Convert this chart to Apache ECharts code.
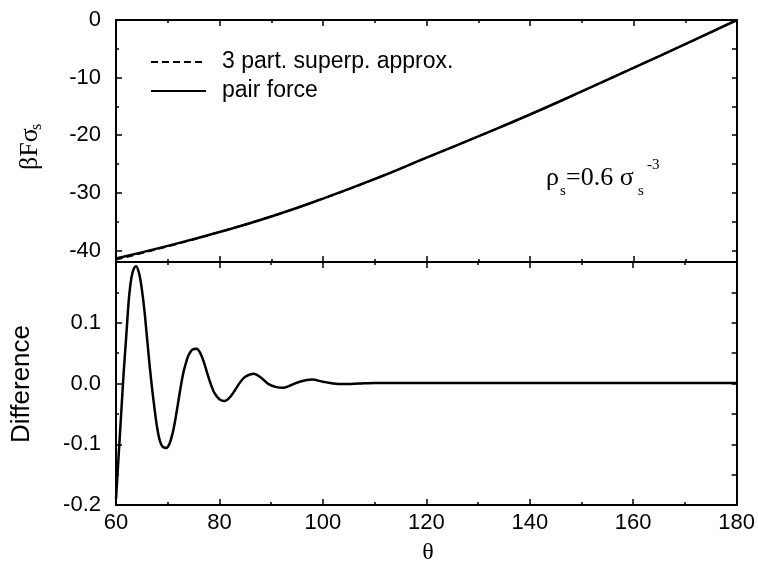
<!DOCTYPE html>
<html><head><meta charset="utf-8">
<script src="https://cdn.jsdelivr.net/npm/echarts@6/dist/echarts.min.js"></script>
<style>html,body{margin:0;padding:0;background:#fff}#c{width:758px;height:562px}</style>
</head><body><div id="c"></div>
<script>
// ---- data ----
const thetaTop = [60,70,80,90,100,110,120,130,140,150,160,170,180];
const pairForce = [-41.4,-39.2,-36.8,-34.1,-31.0,-27.6,-23.9,-20.2,-16.4,-12.4,-8.3,-4.2,0];
const threePart = [-41.59,-39.3,-36.8,-34.1,-31.0,-27.6,-23.9,-20.2,-16.4,-12.4,-8.3,-4.2,0];
const thetaDiff = [60,60.5,61,61.5,62,62.5,63,63.5,63.9,64.5,65,65.5,66,66.5,67,67.5,68,68.5,69,69.7,70.3,71,71.5,72,72.5,73,73.5,74,74.8,75.6,76.3,77,77.6,78.2,79,80,81,82,83,84,85,86.6,88,89.5,91,92.4,94,95.5,97.9,100,102,104,107,110,115,120,130,140,150,160,170,180];
const difference = [-0.19,-0.12,-0.05,0.02,0.08,0.14,0.175,0.19,0.193,0.18,0.155,0.12,0.075,0.03,-0.01,-0.045,-0.075,-0.095,-0.104,-0.106,-0.1,-0.08,-0.058,-0.032,-0.006,0.017,0.033,0.046,0.056,0.057,0.05,0.035,0.018,0.002,-0.015,-0.026,-0.029,-0.023,-0.011,0.002,0.011,0.016,0.01,-0.001,-0.006,-0.007,-0.002,0.003,0.0065,0.003,0.0,-0.001,0.0,0.001,0.001,0.001,0.001,0.001,0.001,0.001,0.001,0.001];
const topYLabels = [-40,-30,-20,-10,0];
const topYMinor = [-35,-25,-15,-5];
const topYRight = [-40,-35,-30,-25,-20,-15,-10,-5];
const bottomYLabels = [-0.2,-0.1,0.0,0.1];
const bottomYRight = [-0.15,-0.1,-0.05,0,0.05,0.1,0.15];
const seriesNames = ['3 part. superp. approx.','pair force'];

// ---- chart ----
const SANS = 'Liberation Sans, Arial, sans-serif';
const SERIF = 'Liberation Serif, Times New Roman, serif';
const black = '#000';
const line = {show:true, onZero:false, lineStyle:{color:black, width:2}};

function xAx(grid, pos, labels){
  return {type:'value', gridIndex:grid, position:pos, min:60, max:180, interval:20,
    axisLine:line, splitLine:{show:false},
    axisTick:{show:true, inside:true, length:6, lineStyle:{color:black, width:1.5}},
    minorTick:{show:true, splitNumber:2, length:3, lineStyle:{color:black, width:1.5}},
    axisLabel:{show:labels, color:black, fontFamily:SANS, fontSize:22, margin:7}};
}
const chart = echarts.init(document.getElementById('c'), null, {renderer:'canvas'});
chart.setOption({
  animation:false,
  backgroundColor:'#fff',
  grid:[{left:116, top:20, width:621, height:242},{left:116, top:262, width:621, height:243}],
  xAxis:[xAx(0,'bottom',false), xAx(0,'top',false), xAx(1,'bottom',true), xAx(1,'top',false)],
  yAxis:[
    {type:'value', gridIndex:0, position:'left', min:-42, max:0,
      axisLine:line, splitLine:{show:false},
      axisTick:{show:true, inside:true, length:6, customValues:topYLabels, lineStyle:{color:black, width:1.5}},
      axisLabel:{show:true, customValues:topYLabels, color:black, fontFamily:SANS, fontSize:22, margin:15}},
    {type:'value', gridIndex:0, position:'left', min:-42, max:0,
      axisLine:{show:false, onZero:false}, splitLine:{show:false}, axisLabel:{show:false},
      axisTick:{show:true, inside:true, length:3, customValues:topYMinor, lineStyle:{color:black, width:1.5}}},
    {type:'value', gridIndex:0, position:'right', min:-42, max:0,
      axisLine:line, splitLine:{show:false}, axisLabel:{show:false},
      axisTick:{show:true, inside:true, length:5, customValues:topYRight, lineStyle:{color:black, width:1.5}}},
    {type:'value', gridIndex:1, position:'left', min:-0.2, max:0.2, interval:0.1,
      axisLine:line, splitLine:{show:false},
      axisTick:{show:true, inside:true, length:6, lineStyle:{color:black, width:1.5}},
      minorTick:{show:true, splitNumber:2, length:3, lineStyle:{color:black, width:1.5}},
      axisLabel:{show:true, customValues:bottomYLabels, color:black, fontFamily:SANS, fontSize:22, margin:15,
        formatter:v=>Number(v).toFixed(1)}},
    {type:'value', gridIndex:1, position:'right', min:-0.2, max:0.2,
      axisLine:line, splitLine:{show:false}, axisLabel:{show:false},
      axisTick:{show:true, inside:true, length:5, customValues:bottomYRight, lineStyle:{color:black, width:1.5}}}
  ],
  legend:{show:true, orient:'vertical', left:150, top:49, padding:0, itemGap:3,
    itemWidth:55, itemHeight:14, data:seriesNames,
    itemStyle:{opacity:0},
    textStyle:{color:black, fontFamily:SANS, fontSize:23, lineHeight:26, padding:[0,0,0,11]}},
  series:[
    {name:seriesNames[0], type:'line', xAxisIndex:0, yAxisIndex:0, smooth:true, symbol:'none',
      lineStyle:{color:black, width:2, type:[7,4]}, itemStyle:{color:black},
      data:thetaTop.map((t,i)=>[t, threePart[i]])},
    {name:seriesNames[1], type:'line', xAxisIndex:0, yAxisIndex:0, smooth:true, symbol:'none',
      lineStyle:{color:black, width:2.5}, itemStyle:{color:black},
      data:thetaTop.map((t,i)=>[t, pairForce[i]])},
    {name:'difference', type:'line', xAxisIndex:2, yAxisIndex:3, smooth:0.3, symbol:'none',
      lineStyle:{color:black, width:2.5}, itemStyle:{color:black},
      data:thetaDiff.map((t,i)=>[t, difference[i]])}
  ],
  graphic:[
    {type:'group', x:30, y:150, rotation:Math.PI/2, children:[
      {type:'text', x:-20, y:0, style:{text:'βFσ', fontFamily:SERIF, fontSize:26, fill:black, align:'left', verticalAlign:'middle'}},
      {type:'text', x:20, y:7, style:{text:'s', fontFamily:SERIF, fontSize:16, fill:black, align:'left', verticalAlign:'middle'}}
    ]},
    {type:'group', x:22, y:384, rotation:Math.PI/2, children:[
      {type:'text', x:0, y:0, style:{text:'Difference', fontFamily:SANS, fontSize:26, fill:black, align:'center', verticalAlign:'middle'}}
    ]},
    {type:'text', x:428, y:553, style:{text:'θ', fontFamily:SERIF, fontSize:24, fill:black, align:'center', verticalAlign:'middle'}},
    {type:'text', x:546, y:178, style:{text:'ρ', fontFamily:SERIF, fontSize:26, fill:black, align:'left', verticalAlign:'middle'}},
    {type:'text', x:560, y:191, style:{text:'s', fontFamily:SERIF, fontSize:15, fill:black, align:'left', verticalAlign:'middle'}},
    {type:'text', x:566, y:178, style:{text:'=0.6 σ', fontFamily:SERIF, fontSize:26, fill:black, align:'left', verticalAlign:'middle'}},
    {type:'text', x:638, y:191, style:{text:'s', fontFamily:SERIF, fontSize:15, fill:black, align:'left', verticalAlign:'middle'}},
    {type:'text', x:647, y:165, style:{text:'-3', fontFamily:SERIF, fontSize:15, fill:black, align:'left', verticalAlign:'middle'}}
  ]
});
</script></body></html>
